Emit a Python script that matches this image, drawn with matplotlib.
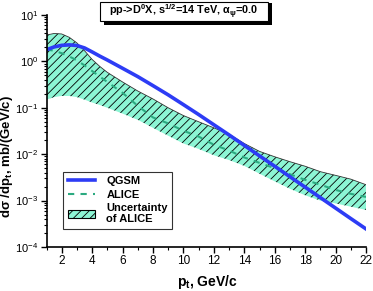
import numpy as np
import matplotlib
matplotlib.use("Agg")
import matplotlib.pyplot as plt
from matplotlib.patches import Patch, Rectangle
from matplotlib.lines import Line2D
from matplotlib.ticker import MultipleLocator, LogLocator, NullFormatter

plt.rcParams['font.family'] = ['Liberation Sans', 'DejaVu Sans']
plt.rcParams['mathtext.fontset'] = 'custom'
plt.rcParams['mathtext.rm'] = 'Liberation Sans'
plt.rcParams['mathtext.bf'] = 'Liberation Sans:bold'
plt.rcParams['mathtext.it'] = 'Liberation Sans:italic'
plt.rcParams['hatch.linewidth'] = 0.6

# QGSM curve
pt_qgsm = [1, 1.5, 2, 2.5, 3, 3.5, 4, 4.5, 5, 6, 7, 8, 9, 10, 11, 12, 13, 14, 15, 16,
           17, 18, 19, 20, 21, 22]
qgsm = [1.78, 2.05, 2.22, 2.27, 2.2, 1.95, 1.6, 1.3, 1.07, 0.71, 0.47, 0.30, 0.19, 0.117,
        0.0716, 0.0431, 0.026, 0.0155, 0.0092, 0.0055, 0.00327, 0.00195, 0.00116,
        6.9e-4, 4.1e-4, 2.45e-4]

# ALICE central value and uncertainty band
pt_alice = [1, 1.5, 2, 2.5, 3, 3.5, 4, 4.5, 5, 6, 7, 8, 9, 10, 11, 12, 13, 14, 15, 16,
            17, 18, 19, 20, 21, 22]
alice = [1.8, 1.7, 1.5, 1.28, 1.05, 0.82, 0.62, 0.47, 0.36, 0.21, 0.11, 0.062, 0.046,
         0.032, 0.024, 0.016, 0.012, 0.0085, 0.0065, 0.005, 0.0037, 0.0028, 0.0022,
         0.0017, 0.0014, 0.0012]
alice_hi = [3.7, 4.0, 3.9, 3.3, 2.5, 1.7, 1.1, 0.78, 0.58, 0.36, 0.23, 0.155, 0.1, 0.068,
            0.05, 0.037, 0.027, 0.017, 0.0115, 0.0088, 0.0069, 0.0055, 0.0042, 0.0035,
            0.0029, 0.0022]
alice_lo = [0.15, 0.17, 0.18, 0.18, 0.17, 0.15, 0.13, 0.115, 0.1, 0.075, 0.055, 0.037,
            0.025, 0.017, 0.013, 0.0095, 0.0075, 0.0056, 0.0038, 0.0026, 0.0018, 0.0013,
            0.001, 8.7e-4, 7.4e-4, 6.3e-4]

blue = '#2D3CF5'
green = '#2BAA80'
mint = '#8CF5D4'

W, H = 373, 291
fig = plt.figure(figsize=(W / 100, H / 100), dpi=100)
ax = fig.add_axes([46.5 / W, 44 / H, 319.5 / W, 232 / H])

ax.fill_between(pt_alice, alice_lo, alice_hi, facecolor=mint, edgecolor='black',
                hatch='////', linewidth=0)
ax.plot(pt_alice, alice_hi, color='#333333', lw=0.6)
ax.plot(pt_alice, alice, color=green, lw=1.5, ls=(0, (3, 3)))
ax.plot(pt_qgsm, qgsm, color=blue, lw=2.6)

ax.set_yscale('log')
ax.set_xlim(1, 22)
ax.set_ylim(1e-4, 1e1)
ax.xaxis.set_major_locator(MultipleLocator(2))
ax.xaxis.set_minor_locator(MultipleLocator(1))
ax.yaxis.set_minor_locator(LogLocator(base=10, subs=np.arange(2, 10), numticks=20))
ax.yaxis.set_minor_formatter(NullFormatter())
ax.tick_params(which='major', direction='out', length=4, width=1, labelsize=8.5, pad=2)
ax.tick_params(axis='y', which='major', labelsize=8)
ax.tick_params(which='minor', direction='out', length=2.5, width=0.8)
ax.spines['top'].set_visible(False)
ax.spines['right'].set_visible(False)
for s in ['left', 'bottom']:
    ax.spines[s].set_linewidth(1.2)

ax.set_xlabel('p$_\\mathbf{t}$, GeV/c', fontsize=10, fontweight='bold')
ax.xaxis.set_label_coords((207 - 46.5) / 319.5, -(273 - 247) / 232)
ax.set_ylabel('dσ /dp$_\\mathbf{t}$, mb/(GeV/c)', fontsize=9.5, fontweight='bold')
ax.yaxis.set_label_coords(-(46.5 - 15) / 319.5, (247 - 157) / 232)

handles = [Line2D([], [], color=blue, lw=2.6),
           Line2D([], [], color=green, lw=1.5, ls=(0, (3, 3))),
           Patch(facecolor=mint, edgecolor='black', hatch='////', lw=0.8)]
labels = ['QGSM', 'ALICE', 'Uncertainty\nof ALICE']
leg = ax.legend(handles, labels, loc='lower left', bbox_to_anchor=(0.052, 0.078),
                borderaxespad=0, prop={'weight': 'bold', 'size': 8}, frameon=True,
                fancybox=False, edgecolor='black', handlelength=2.5, borderpad=0.4,
                labelspacing=0.3, handletextpad=1.0)
leg.get_frame().set_linewidth(0.8)

# title box with drop shadow
fig.add_artist(Rectangle((104 / W, 1 - 25 / H), 168 / W, 22 / H, transform=fig.transFigure,
                         fc='black', ec='black', lw=0))
fig.add_artist(Rectangle((100 / W, 1 - 21 / H), 168 / W, 19 / H, transform=fig.transFigure,
                         fc='white', ec='black', lw=0.8))
title = 'pp->D$^\\mathbf{0}$X, s$^\\mathbf{1/2}$=14 TeV, α$_\\mathbf{ψ}$=0.0'
fig.text(184 / W, 1 - 11.5 / H, title, ha='center', va='center', fontsize=7.8,
         fontweight='bold')

fig.savefig('out.png', dpi=100)
